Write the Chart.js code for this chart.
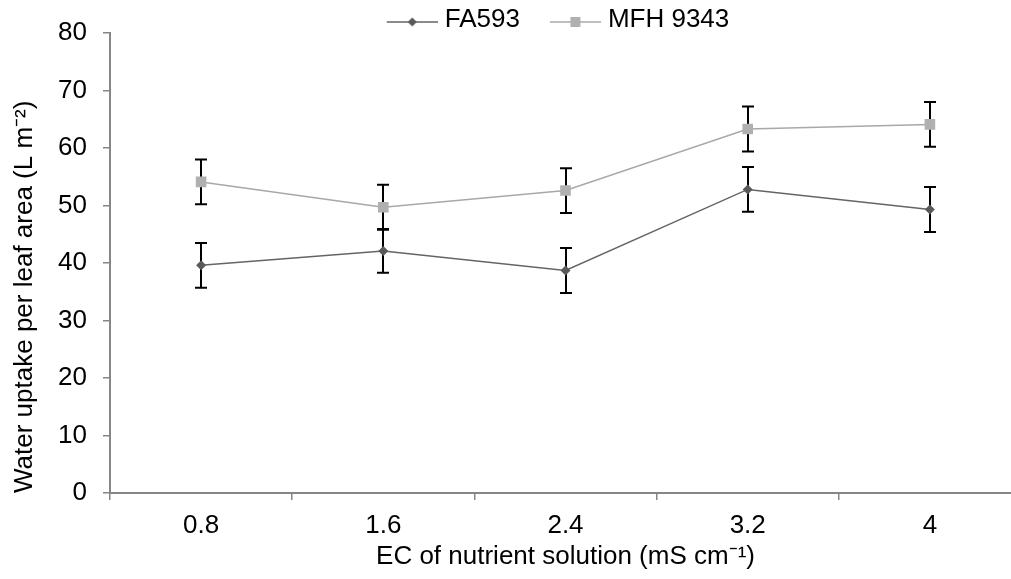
<!DOCTYPE html>
<html>
<head>
<meta charset="utf-8">
<script src="https://cdn.jsdelivr.net/npm/chart.js@4.4.0/dist/chart.umd.min.js"></script>
<style>
  html, body { margin: 0; padding: 0; background: #fff; overflow: hidden; }
</style>
</head>
<body>
<canvas id="myChart_Water" width="1093" height="579"></canvas>
<script>
// EC levels (mS cm-1)
var ecLabels = ["0.8", "1.6", "2.4", "3.2", "4"];
// water uptake per leaf area (L m-2) and error
var fa593 = [39.6, 42.1, 38.7, 52.8, 49.3];
var fa593Err = [3.9, 3.8, 3.9, 3.9, 3.9];
var mfh9343 = [54.1, 49.7, 52.6, 63.3, 64.1];
var mfh9343Err = [3.9, 3.9, 3.9, 3.9, 3.9];
var yMin = 0, yMax = 80, yStep = 10;

var axisGrey = "#868686";
var fontName = "'Liberation Sans', Arial, sans-serif";

// legend symbol: short line with the marker in the middle (left part transparent)
function legendSymbol(lineColor, markColor, shape) {
  var c = document.createElement("canvas");
  c.width = 80;
  c.height = 16;
  var g = c.getContext("2d");
  g.strokeStyle = lineColor;
  g.lineWidth = 1.5;
  g.beginPath();
  g.moveTo(29, 10);
  g.lineTo(80, 10);
  g.stroke();
  g.fillStyle = markColor;
  g.beginPath();
  if (shape === "diamond") {
    g.moveTo(54.5, 5.5);
    g.lineTo(59, 10);
    g.lineTo(54.5, 14.5);
    g.lineTo(50, 10);
    g.closePath();
  } else {
    g.rect(49.5, 5, 10, 10);
  }
  g.fill();
  return c;
}

// error bars, drawn under the markers
var errorBars = {
  id: "errorBars",
  beforeDatasetsDraw(chart) {
    var ctx = chart.ctx;
    var yScale = chart.scales.y;
    ctx.save();
    ctx.strokeStyle = "#000";
    ctx.lineWidth = 2;
    chart.data.datasets.forEach((ds, i) => {
      var meta = chart.getDatasetMeta(i);
      meta.data.forEach((pt, j) => {
        var v = ds.data[j];
        var e = ds.errors[j];
        var top = yScale.getPixelForValue(v + e);
        var bot = yScale.getPixelForValue(v - e);
        var x = Math.round(pt.x);
        ctx.beginPath();
        ctx.moveTo(x, top);
        ctx.lineTo(x, bot);
        ctx.moveTo(x - 6, top);
        ctx.lineTo(x + 6, top);
        ctx.moveTo(x - 6, bot);
        ctx.lineTo(x + 6, bot);
        ctx.stroke();
      });
    });
    ctx.restore();
  },
};

// keep the legend box short so the plot starts right under it
var legendHeight = {
  id: "legendHeight",
  beforeLayout(chart) {
    var lg = chart.legend;
    if (lg && !lg._fixedFit) {
      var fit = lg.fit;
      lg.fit = function () {
        fit.call(this);
        this.height = 33;
      };
      lg._fixedFit = true;
    }
  },
};

var legendImgs = [
  legendSymbol("#646464", "#5a5a5a", "diamond"),
  legendSymbol("#a8a8a8", "#b0b0b0", "square"),
];

var ctx = document.getElementById("myChart_Water").getContext("2d");
var chartWater = new Chart(ctx, {
  type: "line",
  data: {
    labels: ecLabels,
    datasets: [
      {
        label: "FA593",
        data: fa593,
        errors: fa593Err,
        borderColor: "#646464",
        borderWidth: 1.5,
        backgroundColor: "#5a5a5a",
        pointStyle: "rectRot",
        pointRadius: 5,
        pointBorderWidth: 0,
        tension: 0,
      },
      {
        label: "MFH 9343",
        data: mfh9343,
        errors: mfh9343Err,
        borderColor: "#a8a8a8",
        borderWidth: 1.5,
        backgroundColor: "#b0b0b0",
        pointStyle: "rect",
        pointRadius: 7.5,
        pointBorderWidth: 0,
        tension: 0,
      },
    ],
  },
  options: {
    responsive: false,
    animation: false,
    layout: { padding: 0 },
    plugins: {
      tooltip: { enabled: false },
      legend: {
        position: "top",
        labels: {
          usePointStyle: true,
          pointStyleWidth: 68,
          padding: 7,
          color: "#000",
          font: { family: fontName, size: 26 },
          generateLabels: (chart) =>
            chart.data.datasets.map((ds, i) => ({
              text: ds.label,
              pointStyle: legendImgs[i],
              datasetIndex: i,
              fontColor: "#000",
              lineWidth: 0,
              strokeStyle: "transparent",
              fillStyle: "transparent",
            })),
        },
      },
    },
    scales: {
      x: {
        type: "category",
        offset: true,
        grid: {
          display: true,
          drawOnChartArea: false,
          offset: true,
          color: axisGrey,
          tickLength: 7,
          lineWidth: 1.5,
        },
        border: { color: axisGrey, width: 2 },
        ticks: {
          color: "#000",
          padding: 10,
          font: { family: fontName, size: 26 },
        },
        title: {
          display: true,
          text: "EC of nutrient solution (mS cm\u207B\u00B9)",
          color: "#000",
          font: { family: fontName, size: 26 },
          padding: { top: 2, bottom: 7 },
        },
        afterFit: (scale) => {
          scale.height = 86;
        },
      },
      y: {
        min: yMin,
        max: yMax,
        ticks: {
          stepSize: yStep,
          color: "#000",
          padding: 16,
          font: { family: fontName, size: 26 },
        },
        grid: {
          display: true,
          drawOnChartArea: false,
          color: axisGrey,
          tickLength: 7,
          lineWidth: 1.5,
        },
        border: { color: axisGrey, width: 2 },
        title: {
          display: true,
          align: "start",
          text: "Water uptake per leaf area (L m\u207B\u00B2)",
          color: "#000",
          font: { family: fontName, size: 26 },
          padding: { top: 9, bottom: 0 },
        },
        afterFit: (scale) => {
          scale.width = 110;
        },
      },
      // empty right box: room past the window edge, keeps the legend centred like the original
      yr: {
        position: "right",
        display: true,
        grid: { display: false },
        border: { display: false },
        ticks: { display: false },
        afterFit: (scale) => {
          scale.width = 72;
        },
      },
    },
  },
  plugins: [errorBars, legendHeight],
});
</script>
</body>
</html>
